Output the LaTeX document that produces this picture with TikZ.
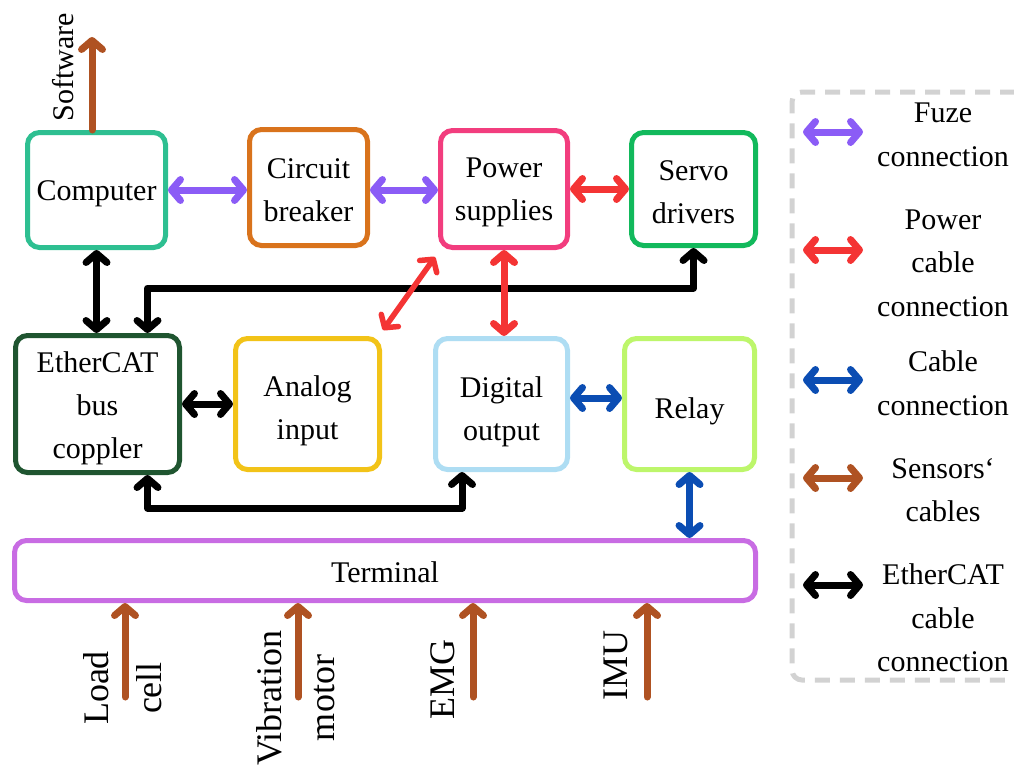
\documentclass[tikz,border=0pt]{standalone}
\usepackage{fontspec}
\setmainfont{Liberation Serif}
\usetikzlibrary{arrows.meta,calc}
\definecolor{cComp}{HTML}{2EBF91}
\definecolor{cCB}{HTML}{D9731C}
\definecolor{cPow}{HTML}{F23D7E}
\definecolor{cServo}{HTML}{12B95C}
\definecolor{cEth}{HTML}{1F5530}
\definecolor{cAna}{HTML}{F2C318}
\definecolor{cDig}{HTML}{AEDDF3}
\definecolor{cRel}{HTML}{BDF66B}
\definecolor{cTerm}{HTML}{C86CE3}
\definecolor{aFuze}{HTML}{8B5CF6}
\definecolor{aPow}{HTML}{F43434}
\definecolor{aCab}{HTML}{0B4DB3}
\definecolor{aSen}{HTML}{AF5222}
\definecolor{legGray}{HTML}{D2D2D2}
\newcommand\tp[1]{\rule{0pt}{#1}}
\begin{document}
\begin{tikzpicture}[x=1pt,y=-1pt,
  box/.style={draw, rounded corners=12pt, line width=5pt, align=center, inner sep=0pt, fill=white, font=\fontsize{30}{43}\selectfont},
  >={Straight Barb[round,length=9pt,width=21pt]},
  link/.style={<->, line width=7pt, line cap=round, line join=round},
  feed/.style={->, line width=7pt, line cap=round},
  lbl/.style={align=center, inner sep=0pt, font=\fontsize{30}{43.5}\selectfont},
  rlbl/.style={align=center, inner sep=0pt, rotate=90, font=\fontsize{36}{53}\selectfont},
]
\useasboundingbox (0,0) rectangle (1014,771);
\clip (0,0) rectangle (1014,771);

% boxes
\node[box, draw=cComp, minimum width=138pt, minimum height=115pt] (comp) at (96.5,190) {\tp{28pt}Computer};
\node[box, draw=cCB, minimum width=118pt, minimum height=116pt] (cb) at (308.5,187.5) {\tp{26pt}Circuit\\breaker};
\node[box, draw=cPow, minimum width=127pt, minimum height=117pt] (pow) at (504,189) {\tp{26pt}Power\\supplies};
\node[box, draw=cServo, minimum width=124pt, minimum height=113pt] (servo) at (693.5,189) {\tp{27pt}Servo\\drivers};
\node[box, draw=cEth, minimum width=164pt, minimum height=137pt] (ecp) at (97.5,404) {\tp{30pt}EtherCAT\\bus\\coppler};
\node[box, draw=cAna, minimum width=144pt, minimum height=131pt] (ana) at (307.5,404) {\tp{34pt}Analog\\input};
\node[box, draw=cDig, minimum width=132pt, minimum height=131pt] (dig) at (501.5,404) {\tp{36pt}Digital\\output};
\node[box, draw=cRel, minimum width=130pt, minimum height=131pt] (rel) at (689.5,404) {\tp{36pt}Relay};
\node[box, draw=cTerm, minimum width=741pt, minimum height=60pt] (term) at (385,570.5) {\tp{24pt}Terminal};

% connectors
\draw[link, aFuze] (comp.east) -- (comp.east -| cb.west);
\draw[link, aFuze] (cb.east |- comp.east) -- (pow.west |- comp.east);
\draw[link, aPow] (pow.east) -- (pow.east -| servo.west);
\draw[link] (comp.south) -- (comp.south |- ecp.north);
\coordinate (eTop) at ([xshift=50pt]ecp.north);
\draw[link] (eTop) -- ++(0,-45) -| (servo.south);
\draw[link, aPow] (pow.south) -- (pow.south |- dig.north);
\draw[link, aPow, line width=5.5pt] ([shift={(1,-6)}]ana.north east) -- ([shift={(-3,7)}]pow.south west);
\draw[link] (ecp.east) -- (ecp.east -| ana.west);
\coordinate (eBot) at ([xshift=50pt]ecp.south);
\coordinate (dBot) at ([xshift=-39.5pt]dig.south);
\draw[link] (eBot) -- ++(0,33) -| (dBot);
\draw[link, aCab] ([yshift=6pt]dig.east) -- ([yshift=6pt]dig.east -| rel.west);
\draw[link, aCab] (rel.south) -- (rel.south |- term.north);

% software
\coordinate (sw) at (92,37);
\draw[feed, aSen] (comp.north -| sw) -- (sw);
\node[rlbl, font=\fontsize{30}{43}\selectfont] (swl) at (63,67) {Software};

% sensors
\coordinate (s1) at (125,697);
\coordinate (s2) at (298,697);
\coordinate (s3) at (473,697);
\coordinate (s4) at (647,697);
\draw[feed, aSen] (s1) -- (s1 |- term.south);
\draw[feed, aSen] (s2) -- (s2 |- term.south);
\draw[feed, aSen] (s3) -- (s3 |- term.south);
\draw[feed, aSen] (s4) -- (s4 |- term.south);
\node[rlbl] (l1) at (123,688) {Load\\cell};
\node[rlbl] (l2) at (295.5,698) {Vibration\\motor};
\node[rlbl] (l3) at (443,679) {EMG};
\node[rlbl] (l4) at (616,665) {IMU};

% legend
\draw[legGray, line width=5pt, dash pattern=on 15pt off 10pt, rounded corners=10pt] (1040,92) -- (792,92) -- (792,680) -- (1040,680);
\coordinate (la1) at (803,132); \coordinate (lb1) at (863,132);
\coordinate (la2) at (803,250); \coordinate (lb2) at (863,250);
\coordinate (la3) at (803,380); \coordinate (lb3) at (863,380);
\coordinate (la4) at (803,478); \coordinate (lb4) at (863,478);
\coordinate (la5) at (803,585); \coordinate (lb5) at (863,585);
\draw[link, aFuze] (la1) -- (lb1);
\draw[link, aPow] (la2) -- (lb2);
\draw[link, aCab] (la3) -- (lb3);
\draw[link, aSen] (la4) -- (lb4);
\draw[link] (la5) -- (lb5);
\node[lbl] (t1) at (943,135) {Fuze\\connection};
\node[lbl] (t2) at (943,263) {Power\\cable\\connection};
\node[lbl] (t3) at (943,383) {Cable\\connection};
\node[lbl] (t4) at (943,490) {Sensors‘\\cables};
\node[lbl] (t5) at (943,618) {EtherCAT\\cable\\connection};
\end{tikzpicture}
\end{document}
